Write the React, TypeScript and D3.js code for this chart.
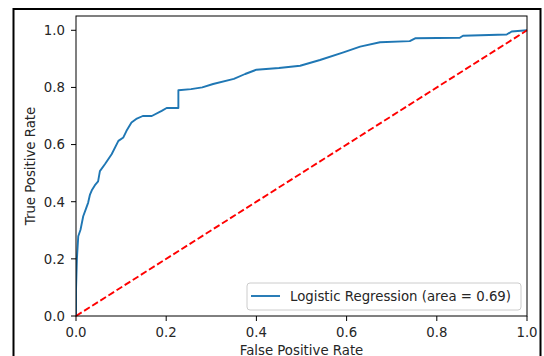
import React from "react";
import * as d3 from "d3";

const fpr = [0, 0, 0.002, 0.005, 0.01, 0.016, 0.022, 0.027, 0.031, 0.035, 0.042, 0.049, 0.053, 0.064, 0.079, 0.094, 0.105, 0.112, 0.123, 0.135, 0.148, 0.168, 0.19, 0.201, 0.227, 0.227, 0.255, 0.28, 0.304, 0.35, 0.375, 0.4, 0.45, 0.497, 0.541, 0.593, 0.63, 0.674, 0.74, 0.752, 0.851, 0.858, 0.955, 0.966, 1];
const tpr = [0, 0.09, 0.2, 0.279, 0.302, 0.349, 0.375, 0.397, 0.425, 0.44, 0.458, 0.471, 0.507, 0.531, 0.566, 0.613, 0.625, 0.648, 0.677, 0.691, 0.7, 0.7, 0.718, 0.728, 0.728, 0.79, 0.794, 0.8, 0.812, 0.83, 0.847, 0.862, 0.868, 0.876, 0.896, 0.923, 0.943, 0.958, 0.962, 0.972, 0.974, 0.981, 0.985, 0.996, 1];
const diagX = [0, 1];
const diagY = [0, 1];
const xTicks = [0, 0.2, 0.4, 0.6, 0.8, 1.0];
const yTicks = [0, 0.2, 0.4, 0.6, 0.8, 1.0];
const legendLabel = "Logistic Regression (area = 0.69)";
const xLabel = "False Positive Rate";
const yLabel = "True Positive Rate";

export default function App() {
  const W = 544, H = 356;
  const L = 76, R = 527, T = 16, B = 316;
  const x = d3.scaleLinear().domain([0, 1]).range([L, R]);
  const y = d3.scaleLinear().domain([0, 1.05]).range([B, T]);
  const pts = fpr.map((f, i) => [f, tpr[i]] as [number, number]);
  const line = d3.line<[number, number]>().x(d => x(d[0])).y(d => y(d[1]));
  const diag = diagX.map((v, i) => [v, diagY[i]] as [number, number]);
  const font = "'DejaVu Sans', sans-serif";
  const fs = 13.3;
  const tc = "#262626";
  return (
    <svg width={W} height={H} style={{ position: "absolute", left: 0, top: 0, background: "#fff" }} fontFamily={font}>
      <rect x={0} y={0} width={W} height={H} fill="#fff" />
      <rect x={13.5} y={9} width={527} height={H + 20} fill="none" stroke="#000" strokeWidth={2} />
      <defs>
        <clipPath id="plot">
          <rect x={L} y={T} width={R - L} height={B - T} />
        </clipPath>
      </defs>
      <g clipPath="url(#plot)">
        <path d={line(pts) || ""} fill="none" stroke="#1f77b4" strokeWidth={1.9} strokeLinejoin="round" />
      </g>
      <path d={line(diag) || ""} fill="none" stroke="#ff0000" strokeWidth={1.9} strokeDasharray="6.7,2.9" />
      <rect x={L} y={T} width={R - L} height={B - T} fill="none" stroke="#000" strokeWidth={1} />
      {xTicks.map(t => (
        <g key={"x" + t}>
          <line x1={x(t)} x2={x(t)} y1={B} y2={B + 5} stroke="#000" strokeWidth={1} />
          <text x={x(t)} y={B + 21} textAnchor="middle" fontSize={fs} fill={tc}>{t.toFixed(1)}</text>
        </g>
      ))}
      {yTicks.map(t => (
        <g key={"y" + t}>
          <line x1={L - 5} x2={L} y1={y(t)} y2={y(t)} stroke="#000" strokeWidth={1} />
          <text x={L - 11} y={y(t)} dy="0.36em" textAnchor="end" fontSize={fs} fill={tc}>{t.toFixed(1)}</text>
        </g>
      ))}
      <text x={(L + R) / 2} y={B + 38.5} textAnchor="middle" fontSize={fs} fill={tc}>{xLabel}</text>
      <text transform={`translate(35,${(T + B) / 2}) rotate(-90)`} textAnchor="middle" fontSize={fs} fill={tc}>{yLabel}</text>
      <g>
        <rect x={247} y={283} width={274} height={27} rx={3} fill="#fff" fillOpacity={0.8} stroke="#ccc" strokeWidth={1} />
        <line x1={251} x2={280} y1={296} y2={296} stroke="#1f77b4" strokeWidth={1.9} />
        <text x={290} y={296} dy="0.36em" fontSize={fs} fill={tc}>{legendLabel}</text>
      </g>
    </svg>
  );
}
